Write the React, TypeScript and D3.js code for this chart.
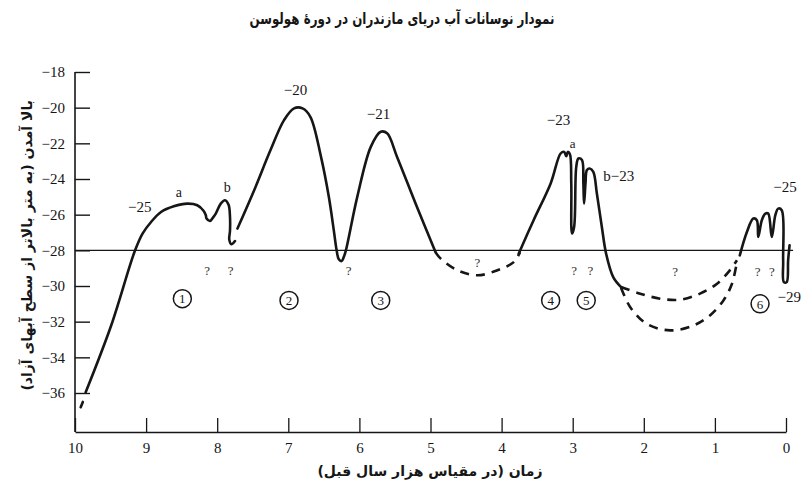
import { useEffect, useRef } from "react";
import * as d3 from "d3";

type Pt = [number, number];

// x = thousand years before present, y = level (m)
const yTicks = [-18, -20, -22, -24, -26, -28, -30, -32, -34, -36];
const xTicks = [10, 9, 8, 7, 6, 5, 4, 3, 2, 1, 0];

const startMark: Pt[] = [[9.92, -36.8], [9.89, -36.5]];

const stage1: Pt[] = [
  [9.85, -35.96], [9.49, -32.2], [9.16, -28.05], [9.05, -27.06], [8.93, -26.41],
  [8.79, -25.85], [8.61, -25.53], [8.42, -25.38], [8.28, -25.47], [8.19, -25.79],
  [8.16, -26.03], [8.15, -26.22], [8.1, -26.35], [8.07, -26.22], [8.02, -25.94],
  [7.95, -25.38], [7.89, -25.19], [7.84, -25.45], [7.82, -26.13], [7.82, -26.9],
  [7.83, -27.4], [7.8, -27.66], [7.75, -27.48],
];

const stage23: Pt[] = [
  [7.715, -26.78], [7.48, -24.63], [7.25, -22.38], [7.06, -20.7], [6.92, -20.04],
  [6.8, -20.04], [6.69, -20.51], [6.54, -22.76], [6.43, -25.0], [6.36, -26.88],
  [6.32, -28.0], [6.29, -28.5], [6.25, -28.6], [6.22, -28.38], [6.19, -28.0],
  [6.03, -25.0], [5.84, -22.2], [5.7, -21.35], [5.61, -21.44], [5.47, -22.76],
  [5.19, -25.57], [4.93, -28.1],
];

const gap34: Pt[] = [
  [4.93, -28.1], [4.86, -28.45], [4.62, -29.12], [4.34, -29.4], [4.06, -29.12],
  [3.83, -28.66], [3.74, -28.1],
];

const stage45: Pt[] = [
  [3.76, -28.19], [3.55, -26.31], [3.31, -24.25], [3.17, -22.57], [3.12, -22.48],
  [3.09, -22.72], [3.07, -22.48], [3.04, -22.6], [3.02, -24.25], [3.01, -27.06],
  [2.98, -26.69], [2.95, -23.32], [2.92, -22.85], [2.87, -22.94], [2.85, -24.25],
  [2.84, -25.38], [2.82, -24.25], [2.8, -23.5], [2.76, -23.41], [2.71, -23.6],
  [2.66, -24.81], [2.59, -26.69], [2.53, -28.19], [2.43, -29.5], [2.32, -30.06],
];

const gapUpper: Pt[] = [
  [2.32, -30.06], [2.05, -30.43], [1.77, -30.71], [1.49, -30.77], [1.21, -30.43],
  [0.97, -29.87], [0.79, -29.12], [0.69, -28.56],
];

const gapLower: Pt[] = [
  [2.32, -30.1], [2.19, -31.19], [1.96, -32.12], [1.63, -32.49], [1.3, -32.21],
  [1.07, -31.65], [0.88, -30.81], [0.76, -29.87], [0.69, -28.66],
];

const stage6: Pt[] = [
  [0.65, -28.28], [0.55, -26.97], [0.46, -26.22], [0.41, -26.31], [0.39, -27.25],
  [0.34, -26.31], [0.29, -25.94], [0.25, -25.94], [0.2, -27.25], [0.15, -26.03],
  [0.11, -25.66], [0.06, -25.75], [0.04, -28.56], [0.03, -29.78], [-0.01, -29.78],
  [-0.03, -28.56], [-0.05, -27.72],
];

const peakLabels = [
  { text: "−25", t: 9.09, v: -25.57, anchor: "middle", size: 15 },
  { text: "a", t: 8.54, v: -24.72, anchor: "middle", size: 14 },
  { text: "b", t: 7.86, v: -24.44, anchor: "middle", size: 14 },
  { text: "−20", t: 6.9, v: -19.01, anchor: "middle", size: 15 },
  { text: "−21", t: 5.73, v: -20.32, anchor: "middle", size: 15 },
  { text: "−23", t: 3.2, v: -20.7, anchor: "middle", size: 15 },
  { text: "a", t: 3.0, v: -22.0, anchor: "middle", size: 13 },
  { text: "b−23", t: 2.57, v: -23.79, anchor: "start", size: 15 },
  { text: "−25", t: 0.014, v: -24.44, anchor: "middle", size: 15 },
  { text: "−29", t: 0.12, v: -30.62, anchor: "start", size: 15 },
];

const unknownMarks = [
  { t: 8.14, v: -29.1 }, { t: 7.81, v: -29.1 }, { t: 6.15, v: -29.1 },
  { t: 4.34, v: -28.7 }, { t: 2.98, v: -29.1 }, { t: 2.75, v: -29.1 },
  { t: 1.56, v: -29.2 }, { t: 0.4, v: -29.2 }, { t: 0.2, v: -29.2 },
];

const stageNumbers = [
  { n: "1", t: 8.49, v: -30.71 },
  { n: "2", t: 6.99, v: -30.81 },
  { n: "3", t: 5.7, v: -30.81 },
  { n: "4", t: 3.31, v: -30.81 },
  { n: "5", t: 2.81, v: -30.81 },
  { n: "6", t: 0.365, v: -31.0 },
];

const titleText = "نمودار نوسانات آب دریای مازندران در دورهٔ هولوسن";
const xTitle = "زمان (در مقیاس هزار سال قبل)";
const yTitle = "بالا آمدن (به متر بالاتر از سطح آبهای آزاد)";

export default function App() {
  const svgRef = useRef<SVGSVGElement>(null);

  useEffect(() => {
    if (!svgRef.current) return;
    const svg = d3.select(svgRef.current);
    const width = 804;
    const height = 488;
    const axisY = 432;
    const serif = "'Liberation Serif', 'Times New Roman', serif";
    const persian = "'DejaVu Sans', sans-serif";
    const ink = "#161616";

    svg.selectAll("*").remove();
    svg.attr("width", width).attr("height", height);

    svg.append("rect").attr("width", width).attr("height", height).attr("fill", "#fff");

    const x = d3.scaleLinear().domain([10, 0]).range([75, 786]);
    const y = d3.scaleLinear().domain([-18, -36]).range([72, 393]);

    // Y axis (ticks point inward)
    const yAxis = svg
      .append("g")
      .attr("transform", `translate(${x(10)},0)`)
      .call(
        d3
          .axisLeft(y)
          .tickValues(yTicks)
          .tickSize(-15)
          .tickPadding(10)
      );
    yAxis.select(".domain").remove();
    yAxis
      .selectAll("text")
      .attr("fill", ink)
      .style("font-family", serif)
      .style("font-size", "15px");
    yAxis.selectAll(".tick line").attr("stroke", ink).attr("stroke-width", 1.4);

    svg
      .append("line")
      .attr("x1", x(10))
      .attr("x2", x(10))
      .attr("y1", y(-18))
      .attr("y2", axisY)
      .attr("stroke", ink)
      .attr("stroke-width", 1.6);

    // X axis (ticks point up)
    const xAxis = svg
      .append("g")
      .attr("transform", `translate(0,${axisY})`)
      .call(
        d3
          .axisBottom(x)
          .tickValues(xTicks)
          .tickSize(-14)
          .tickSizeOuter(0)
          .tickPadding(10)
          .tickFormat((d) => `${d}`)
      );
    xAxis.select(".domain").attr("stroke", ink).attr("stroke-width", 1.6);
    xAxis.selectAll(".tick line").attr("stroke", ink).attr("stroke-width", 1.3);
    xAxis
      .selectAll("text")
      .attr("fill", ink)
      .style("font-family", serif)
      .style("font-size", "15px");

    // -28 m reference line
    svg
      .append("line")
      .attr("x1", x(10))
      .attr("x2", x(-0.1))
      .attr("y1", y(-28))
      .attr("y2", y(-28))
      .attr("stroke", ink)
      .attr("stroke-width", 1.4);

    const line = d3
      .line<Pt>()
      .x((d) => x(d[0]))
      .y((d) => y(d[1]))
      .curve(d3.curveCatmullRom.alpha(0.5));

    const solid = [startMark, stage1, stage23, stage45, stage6];
    const dashed = [gap34, gapUpper, gapLower];

    svg
      .selectAll("path.solid")
      .data(solid)
      .enter()
      .append("path")
      .attr("class", "solid")
      .attr("d", (d) => line(d))
      .attr("fill", "none")
      .attr("stroke", ink)
      .attr("stroke-width", 2.6)
      .attr("stroke-linejoin", "round")
      .attr("stroke-linecap", "round");

    svg
      .selectAll("path.dashed")
      .data(dashed)
      .enter()
      .append("path")
      .attr("class", "dashed")
      .attr("d", (d) => line(d))
      .attr("fill", "none")
      .attr("stroke", ink)
      .attr("stroke-width", 2.6)
      .attr("stroke-dasharray", "9,7");

    // Peak labels
    svg
      .selectAll("text.peak")
      .data(peakLabels)
      .enter()
      .append("text")
      .attr("class", "peak")
      .attr("x", (d) => x(d.t))
      .attr("y", (d) => y(d.v))
      .attr("dy", "0.35em")
      .attr("text-anchor", (d) => d.anchor)
      .attr("fill", ink)
      .style("font-family", serif)
      .style("font-size", (d) => `${d.size}px`)
      .text((d) => d.text);

    // Question marks
    svg
      .selectAll("text.unknown")
      .data(unknownMarks)
      .enter()
      .append("text")
      .attr("class", "unknown")
      .attr("x", (d) => x(d.t))
      .attr("y", (d) => y(d.v))
      .attr("dy", "0.35em")
      .attr("text-anchor", "middle")
      .attr("fill", "#333")
      .style("font-family", serif)
      .style("font-size", "13px")
      .text("?");

    // Circled stage numbers
    const stages = svg
      .selectAll("g.stage")
      .data(stageNumbers)
      .enter()
      .append("g")
      .attr("class", "stage")
      .attr("transform", (d) => `translate(${x(d.t)},${y(d.v)})`);
    stages
      .append("circle")
      .attr("r", 9)
      .attr("fill", "none")
      .attr("stroke", ink)
      .attr("stroke-width", 1.5);
    stages
      .append("text")
      .attr("text-anchor", "middle")
      .attr("dy", "0.36em")
      .attr("fill", ink)
      .style("font-family", serif)
      .style("font-size", "13px")
      .text((d) => d.n);

    // Titles
    svg
      .append("text")
      .attr("x", width / 2)
      .attr("y", 24)
      .attr("text-anchor", "middle")
      .attr("direction", "rtl")
      .attr("textLength", 305)
      .attr("lengthAdjust", "spacingAndGlyphs")
      .attr("fill", ink)
      .style("font-family", persian)
      .style("font-size", "16px")
      .style("font-weight", "bold")
      .text(titleText);

    svg
      .append("text")
      .attr("x", 430)
      .attr("y", 476)
      .attr("text-anchor", "middle")
      .attr("direction", "rtl")
      .attr("fill", ink)
      .style("font-family", persian)
      .style("font-size", "14px")
      .style("font-weight", "bold")
      .text(xTitle);

    svg
      .append("text")
      .attr("transform", `translate(27,${y(-28) - 5}) rotate(-90)`)
      .attr("text-anchor", "middle")
      .attr("direction", "rtl")
      .attr("dy", "0.35em")
      .attr("fill", ink)
      .style("font-family", persian)
      .style("font-size", "14px")
      .style("font-weight", "bold")
      .text(yTitle);
  }, []);

  return (
    <div style={{ position: "absolute", left: 0, top: 0, background: "#fff" }}>
      <svg ref={svgRef}></svg>
    </div>
  );
}
